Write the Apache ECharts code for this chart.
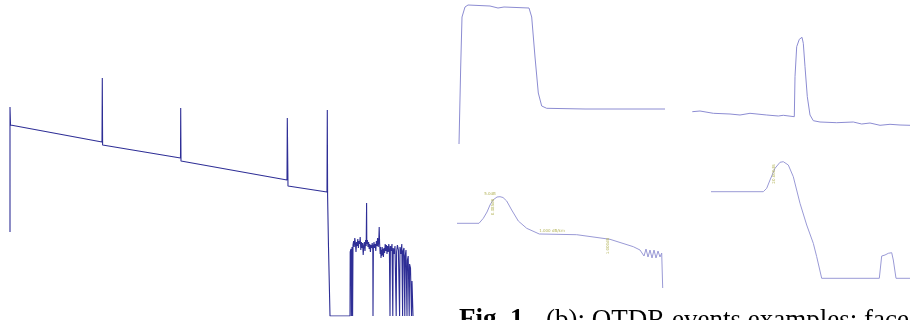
<!DOCTYPE html>
<html>
<head>
<meta charset="utf-8">
<script src="https://cdn.jsdelivr.net/npm/echarts@6/dist/echarts.min.js"></script>
<style>
  html, body { margin: 0; padding: 0; background: #fff; }
  #chart { width: 910px; height: 320px; }
</style>
</head>
<body>
<div id="chart"></div>
<script>
// full OTDR trace: [distance km, level dB]
const mainTrace = [
  [0, 8.4], [0, 20.9], [0.05, 19.1], [9.2, 17.4], [9.23, 23.8], [9.26, 17.1],
  [17.05, 15.8], [17.07, 20.8], [17.1, 15.5], [27.7, 13.6], [27.73, 19.8], [27.8, 13.0],
  [31.7, 12.4], [31.73, 20.6], [31.76, 12.0], [31.85, 6.9], [32.0, 0], [34.0, 0]
];
const noiseTail = [
  [34.02, 6.4], [34.10, 6.7], [34.14, 0], [34.20, 6.9], [34.26, 0], [34.30, 7.1], [34.36, 7.5],
  [34.42, 6.9], [34.48, 7.8], [34.54, 7.3], [34.60, 6.4], [34.66, 7.4], [34.72, 7.0], [34.78, 7.7],
  [34.84, 6.8], [34.90, 7.5], [34.96, 7.2], [35.02, 7.9], [35.08, 6.6], [35.14, 7.4], [35.20, 6.8],
  [35.26, 7.3], [35.32, 6.1], [35.38, 7.0], [35.44, 7.4], [35.50, 6.5], [35.56, 7.6], [35.62, 7.0],
  [35.66, 11.3], [35.68, 7.2], [35.74, 7.6], [35.80, 6.9], [35.86, 7.4], [35.92, 6.7], [35.98, 7.2],
  [36.04, 6.4], [36.10, 7.1], [36.16, 6.8], [36.22, 7.3], [36.28, 6.6], [36.30, 0], [36.34, 6.9],
  [36.40, 7.4], [36.46, 6.8], [36.52, 7.2], [36.58, 6.5], [36.64, 7.5], [36.70, 7.0], [36.76, 7.8],
  [36.82, 6.9], [36.88, 7.6], [36.92, 8.9], [36.96, 7.3], [37.02, 6.2], [37.06, 6.9], [37.10, 5.8],
  [37.14, 6.6], [37.18, 6.0], [37.22, 6.9], [37.26, 6.1], [37.30, 6.7], [37.34, 5.9], [37.40, 6.8],
  [37.46, 6.3], [37.52, 7.2], [37.58, 6.5], [37.64, 7.1], [37.70, 6.2], [37.76, 7.0], [37.82, 6.4],
  [37.88, 7.2], [37.94, 6.6], [38.00, 0], [38.04, 7.0], [38.10, 6.5], [38.20, 7.2], [38.28, 0],
  [38.32, 6.8], [38.40, 6.2], [38.50, 7.0], [38.62, 0], [38.66, 6.4], [38.74, 7.1], [38.84, 6.6],
  [38.96, 0], [39.00, 6.9], [39.08, 6.2], [39.18, 7.2], [39.26, 0], [39.30, 6.5], [39.40, 6.8],
  [39.48, 0], [39.52, 6.0], [39.60, 6.6], [39.70, 0], [39.74, 5.6], [39.82, 6.0], [39.92, 0],
  [39.96, 5.2], [40.05, 4.8], [40.15, 0], [40.20, 3.5], [40.30, 0]
];

// event examples
const faceEvent = [
  [4, 0.6], [5.7, 8.3], [7, 13.3], [10, 14.3], [13, 14.5], [35, 14.4], [43, 14.2], [49, 14.3],
  [74, 14.2], [76.7, 13.3], [80, 9.3], [83.3, 5.7], [86.7, 4.4], [91.7, 4.17], [130, 4.1], [210, 4.1]
];
const reflectEvent = [
  [2.3, 3.83], [10, 3.9], [23.3, 3.67], [40, 3.6], [50, 3.5], [60, 3.67], [76.7, 3.5], [88.3, 3.4],
  [93.3, 3.47], [104.3, 3.33], [105, 7.33], [106.7, 10.33], [109.3, 11.07], [112, 11.27],
  [113.3, 10.67], [115, 8.33], [117.3, 5.33], [120, 3.5], [123.3, 2.93], [130, 2.8], [146.7, 2.73],
  [163.3, 2.8], [171.7, 2.6], [180, 2.7], [190, 2.47], [200, 2.57], [210, 2.5], [220, 2.47]
];
const gainEvent = [
  [2, 7.67], [24, 7.67], [28.3, 8.17], [32, 8.8], [35, 9.5], [38, 10.0], [42, 10.3], [45, 10.33],
  [48, 10.25], [51.7, 9.9], [56.7, 9.0], [63.3, 7.9], [71.7, 7.17], [84.3, 6.6], [121.7, 6.53],
  [155, 6.07], [178.3, 5.33], [185, 5.0], [187, 5.2], [189, 4.4], [191, 5.1], [193, 4.3], [195, 5.0],
  [197, 4.2], [199, 5.0], [201, 4.2], [203, 4.9], [205, 4.3], [206.7, 4.7], [207.7, 1.2]
];
const endEvent = [
  [6, 9.83], [58.3, 9.83], [61.7, 10.17], [65, 11.0], [70, 12.17], [75, 12.77], [78.3, 12.83],
  [83.3, 12.5], [88.3, 11.33], [95, 8.67], [101.7, 6.5], [108.3, 4.67], [111.7, 3.33], [116.7, 1.17],
  [174.3, 1.17], [176.7, 3.4], [180, 3.5], [182, 3.6], [183.3, 3.67], [184.5, 3.5], [186.7, 3.73],
  [188.3, 3.0], [191, 1.17], [205, 1.17]
];

// small marker labels on the event plots
const gainNotes = [
  { coord: [35, 10.6], text: '5.0dB', rot: 0 },
  { coord: [37.7, 9.3], text: '0.385dB', rot: 90 },
  { coord: [97, 6.95], text: '1.000 dB/km', rot: 0 },
  { coord: [153.3, 5.4], text: '1.000dB', rot: 90 }
];
const endNotes = [
  { coord: [68.5, 11.6], text: '20.000dB', rot: 90 }
];

const chart = echarts.init(document.getElementById('chart'));

const panels = [
  { left: 10, top: 56, width: 403, height: 260, xMax: 40.3, yMax: 26 },
  { left: 455, top: 0, width: 212, height: 150, xMax: 212, yMax: 15 },
  { left: 690, top: 0, width: 220, height: 150, xMax: 220, yMax: 15 },
  { left: 455, top: 160, width: 210, height: 140, xMax: 210, yMax: 14 },
  { left: 705, top: 160, width: 205, height: 130, xMax: 205, yMax: 13 }
];

const noteMarks = (notes) => ({
  silent: true,
  symbol: 'circle',
  symbolSize: 0,
  label: { show: true, position: 'inside', fontSize: 4, color: '#b4b45a', fontFamily: 'DejaVu Sans' },
  data: notes.map((n) => ({ coord: n.coord, label: { formatter: n.text, rotate: n.rot } }))
});

const line = (idx, data, color, width, extra) => Object.assign({
  type: 'line',
  xAxisIndex: idx,
  yAxisIndex: idx,
  data: data,
  showSymbol: false,
  symbol: 'none',
  lineStyle: { color: color, width: width },
  z: 2
}, extra || {});

chart.setOption({
  animation: false,
  backgroundColor: '#fff',
  grid: panels.map((p) => ({ left: p.left, top: p.top, width: p.width, height: p.height })),
  xAxis: panels.map((p, i) => ({ type: 'value', gridIndex: i, min: 0, max: p.xMax, show: false })),
  yAxis: panels.map((p, i) => ({ type: 'value', gridIndex: i, min: 0, max: p.yMax, show: false })),
  series: [
    line(0, mainTrace.concat(noiseTail), '#2e2e96', 1.1),
    line(1, faceEvent, '#8c8cd2', 1),
    line(2, reflectEvent, '#8c8cd2', 1),
    line(3, gainEvent, '#9a9ad6', 1, { markPoint: noteMarks(gainNotes) }),
    line(4, endEvent, '#9a9ad6', 1, { markPoint: noteMarks(endNotes) })
  ],
  graphic: [
    {
      type: 'text', left: 459, top: 307,
      style: { text: 'Fig. 1', font: 'bold 27px "Liberation Serif"', fill: '#000' }
    },
    {
      type: 'text', left: 546, top: 307,
      style: { text: '(b): OTDR events examples: face', font: '27px "Liberation Serif"', fill: '#000' }
    }
  ]
});
</script>
</body>
</html>
